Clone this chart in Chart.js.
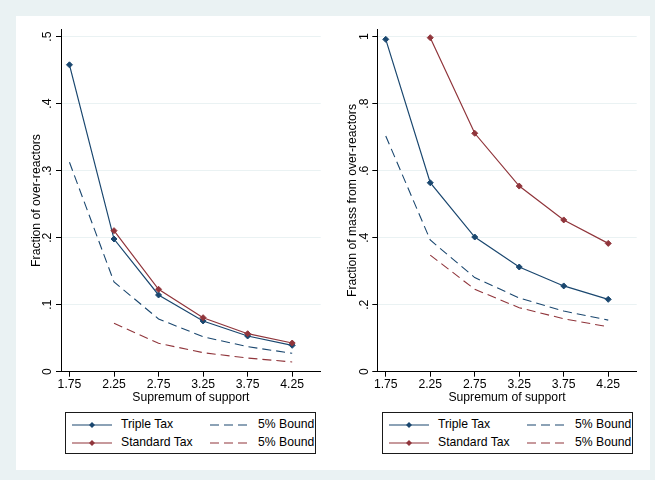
<!DOCTYPE html>
<html>
<head>
<meta charset="utf-8">
<script src="https://cdn.jsdelivr.net/npm/chart.js@4.4.0/dist/chart.umd.min.js"></script>
<style>
  html, body { margin: 0; padding: 0; }
  body {
    width: 655px; height: 480px; position: relative; overflow: hidden;
    background: #eaf2f3;
    font-family: "Liberation Sans", Arial, sans-serif;
  }
  #panel { position: absolute; left: 16px; top: 16px; width: 634px; height: 454px; background: #fff; }
  canvas { position: absolute; }
  .legend {
    position: absolute; top: 412px; width: 249px; height: 40px;
    border: 1px solid #1a1a1a; background: #fff; font-size: 12.2px; color: #000;
  }
  .legend svg { position: absolute; }
  .legend span { position: absolute; line-height: 14px; white-space: nowrap; }
</style>
</head>
<body>
<div id="panel"></div>
<canvas id="leftChart" width="311" height="390" style="left:16px; top:16px;"></canvas>
<canvas id="rightChart" width="318" height="390" style="left:332px; top:16px;"></canvas>
<div class="legend" id="leftLegend" style="left:65px;"></div>
<div class="legend" id="rightLegend" style="left:382px;"></div>

<script>
// x categories (supremum of support)
const xValues = [1.75, 2.25, 2.75, 3.25, 3.75, 4.25];
const xTickLabels = ['1.75', '2.25', '2.75', '3.25', '3.75', '4.25'];

// left panel: fraction of over-reactors
const leftTriple = [0.458, 0.198, 0.1145, 0.0757, 0.0533, 0.0394];
const leftStandard = [null, 0.2105, 0.123, 0.0806, 0.0567, 0.0428];
const leftTripleBound = [0.3125, 0.134, 0.0787, 0.0522, 0.0373, 0.0275];
const leftStandardBound = [null, 0.0722, 0.0424, 0.0284, 0.0204, 0.0145];
const leftYTicks = [0, 0.1, 0.2, 0.3, 0.4, 0.5];
const leftYTickLabels = ['0', '.1', '.2', '.3', '.4', '.5'];

// right panel: fraction of mass from over-reactors
const rightTriple = [0.992, 0.564, 0.402, 0.3125, 0.256, 0.216];
const rightStandard = [null, 0.997, 0.7116, 0.554, 0.453, 0.383];
const rightTripleBound = [0.7035, 0.393, 0.281, 0.22, 0.181, 0.154];
const rightStandardBound = [null, 0.348, 0.246, 0.191, 0.158, 0.134];
const rightYTicks = [0, 0.2, 0.4, 0.6, 0.8, 1];
const rightYTickLabels = ['0', '.2', '.4', '.6', '.8', '1'];

const seriesNames = ['Triple Tax', '5% Bound', 'Standard Tax', '5% Bound'];

const NAVY = '#1a476f';
const MAROON = '#90353b';
const GRID = '#eaf2f3';
const FONT = { family: '"Liberation Sans", Arial, sans-serif', size: 12.2 };

function toPoints(arr) {
    return xValues.map((x, i) => ({ x, y: arr[i] })).filter(p => p.y !== null);
}

function solidSeries(label, arr, color) {
    return {
        label, data: toPoints(arr),
        borderColor: color, backgroundColor: color,
        borderWidth: 1.2, pointStyle: 'rectRot', pointRadius: 3,
        pointBorderWidth: 1, pointBackgroundColor: color, tension: 0
    };
}

function dashedSeries(label, arr, color) {
    return {
        label, data: toPoints(arr),
        borderColor: color, borderWidth: 1.1, borderDash: [9, 5],
        pointRadius: 0, tension: 0
    };
}

function makePanel(canvasId, sets, yTicks, yTickLabels, yMax, yTitle, padRight, yWidth) {
    const ctx = document.getElementById(canvasId).getContext('2d');
    return new Chart(ctx, {
        type: 'line',
        data: {
            datasets: [
                dashedSeries(seriesNames[3], sets[3], MAROON),
                dashedSeries(seriesNames[1], sets[1], NAVY),
                solidSeries(seriesNames[2], sets[2], MAROON),
                solidSeries(seriesNames[0], sets[0], NAVY)
            ]
        },
        options: {
            responsive: false,
            animation: false,
            devicePixelRatio: 1,
            layout: { padding: { left: 0, top: 13.3, right: padRight, bottom: 0 } },
            plugins: { legend: { display: false }, tooltip: { enabled: false } },
            scales: {
                x: {
                    type: 'linear', min: 1.655, max: 4.57,
                    afterBuildTicks: s => { s.ticks = xValues.map(v => ({ value: v })); },
                    afterFit: s => { s.height = 34.3; },
                    grid: { display: true, drawOnChartArea: false, drawTicks: true, tickLength: 5, tickColor: '#000', tickWidth: 1 },
                    border: { display: true, color: '#000', width: 1 },
                    ticks: {
                        autoSkip: false, minRotation: 0, maxRotation: 0, padding: 1,
                        color: '#000', font: FONT,
                        callback: (v, i) => xTickLabels[i]
                    },
                    title: { display: true, text: 'Supremum of support', color: '#000', font: FONT, padding: { top: 0, bottom: 1 } }
                },
                y: {
                    type: 'linear', min: 0, max: yMax,
                    afterBuildTicks: s => { s.ticks = yTicks.map(v => ({ value: v })); },
                    afterFit: s => { s.width = yWidth; },
                    grid: { display: true, drawOnChartArea: true, color: GRID, lineWidth: 1, drawTicks: true, tickLength: 5, tickColor: '#000', tickWidth: 1 },
                    border: { display: true, color: '#000', width: 1 },
                    ticks: {
                        autoSkip: false, minRotation: 90, maxRotation: 90, crossAlign: 'center', padding: 3,
                        color: '#000', font: FONT,
                        callback: (v, i) => yTickLabels[i]
                    },
                    title: { display: true, text: yTitle, color: '#000', font: FONT, padding: { top: 13, bottom: 0 } }
                }
            }
        }
    });
}

function sampleSvg(color, dashed, marker) {
    let s = '<svg width="42" height="10" viewBox="0 0 42 10">';
    s += `<line x1="0" y1="5" x2="40" y2="5" stroke="${color}" stroke-width="1.2"${dashed ? ' stroke-dasharray="9 5"' : ''}/>`;
    if (marker) s += `<polygon points="17,5 20,2 23,5 20,8" fill="${color}"/>`;
    return s + '</svg>';
}

function buildLegend(id) {
    const el = document.getElementById(id);
    const rows = [
        [{ name: seriesNames[0], color: NAVY, dashed: false }, { name: seriesNames[1], color: NAVY, dashed: true }],
        [{ name: seriesNames[2], color: MAROON, dashed: false }, { name: seriesNames[3], color: MAROON, dashed: true }]
    ];
    let html = '';
    rows.forEach((row, r) => {
        const cy = r === 0 ? 11.5 : 29.5;
        html += `<div style="position:absolute;left:6px;top:${cy - 5}px">${sampleSvg(row[0].color, false, true)}</div>`;
        html += `<span style="left:55px;top:${cy - 7.5}px">${row[0].name}</span>`;
        html += `<div style="position:absolute;left:144px;top:${cy - 5}px">${sampleSvg(row[1].color, true, false)}</div>`;
        html += `<span style="left:192px;top:${cy - 7.5}px">${row[1].name}</span>`;
    });
    el.innerHTML = html;
}

makePanel('leftChart', [leftTriple, leftTripleBound, leftStandard, leftStandardBound],
    leftYTicks, leftYTickLabels, 0.511, 'Fraction of over-reactors', 6.3, 45);
makePanel('rightChart', [rightTriple, rightTripleBound, rightStandard, rightStandardBound],
    rightYTicks, rightYTickLabels, 1.022, 'Fraction of mass from over-reactors', 13.3, 45.3);
buildLegend('leftLegend');
buildLegend('rightLegend');
</script>
</body>
</html>
